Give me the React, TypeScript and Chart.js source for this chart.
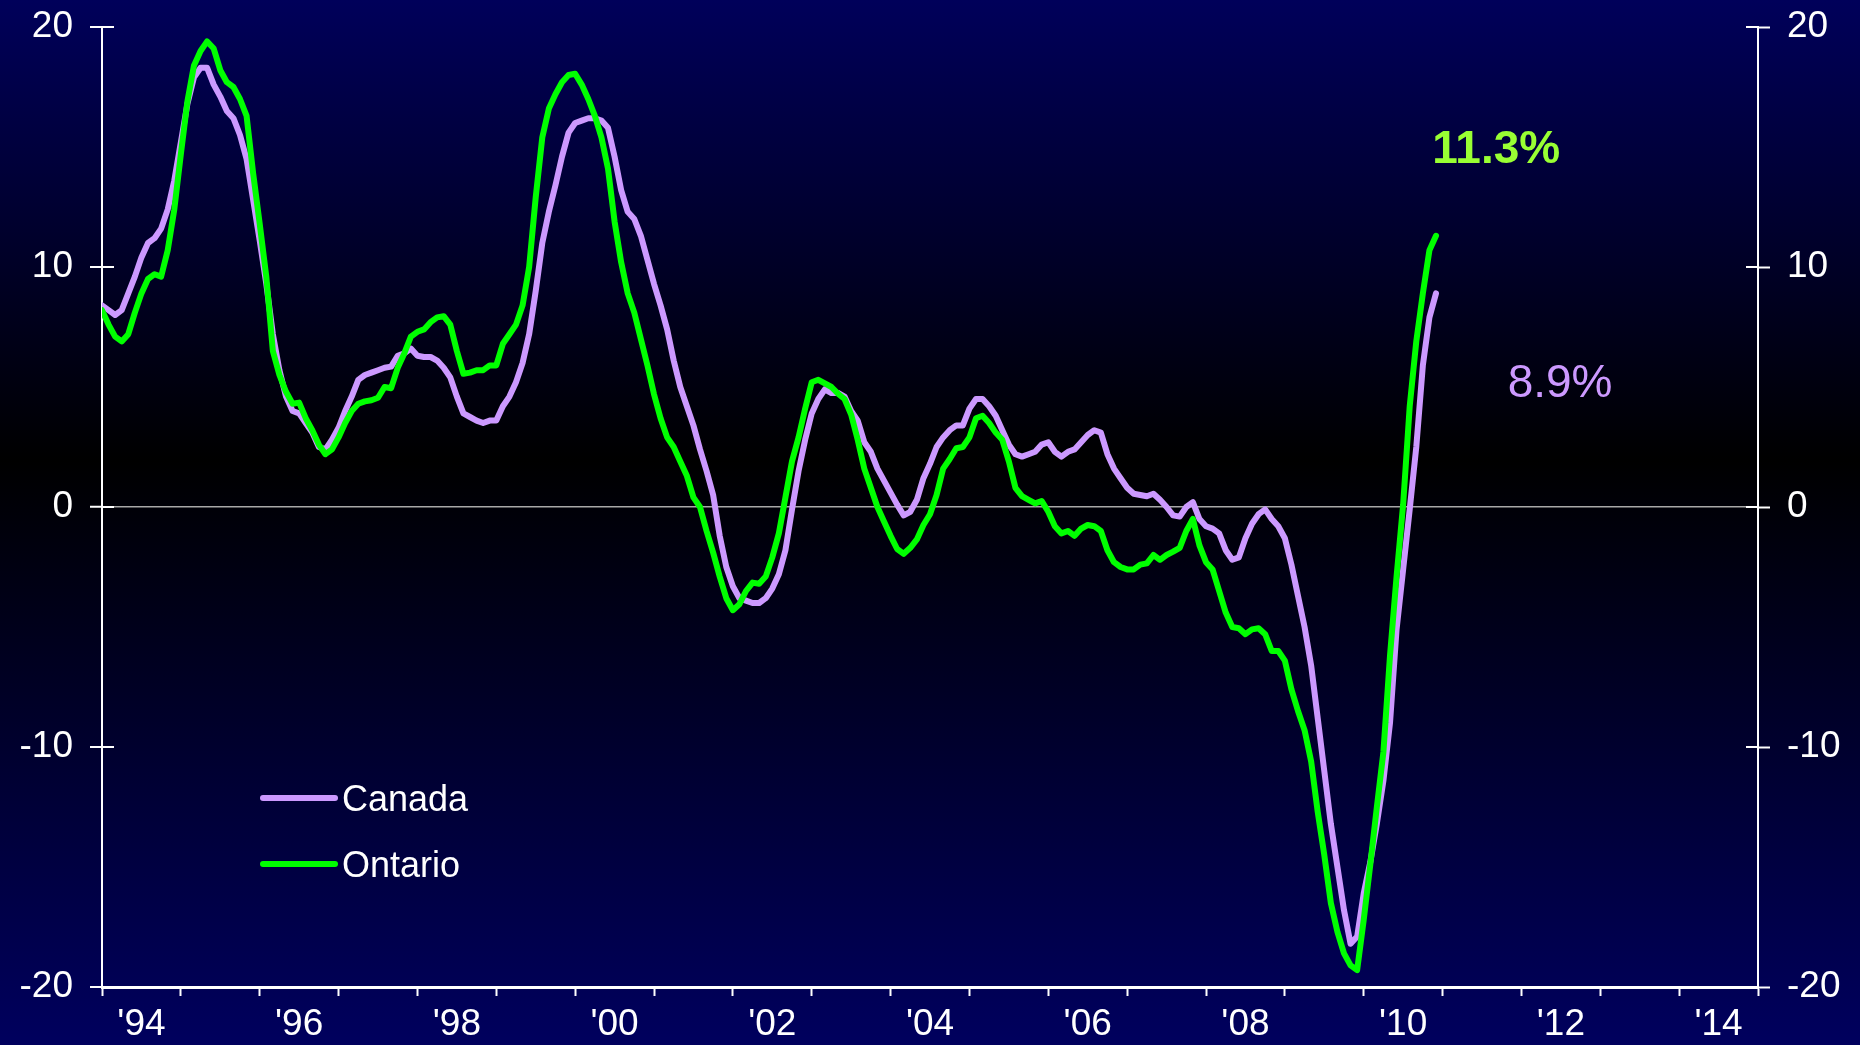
import React, { useEffect, useRef } from "react";
import { Chart, registerables } from "chart.js";

Chart.register(...registerables);

// Monthly year-over-year % change, Jan 1994 .. Dec 2010
const startYear = 1994;
const seriesNames = ["Canada", "Ontario"];

const canada = [
  8.4, 8.2, 8.0, 8.2, 8.9, 9.6, 10.4, 11.0, 11.2, 11.6, 12.4, 13.6,
  15.2, 16.8, 17.9, 18.3, 18.3, 17.6, 17.1, 16.5, 16.2, 15.5, 14.5, 12.8,
  11.1, 9.3, 7.2, 5.7, 4.6, 4.0, 3.9, 3.5, 3.1, 2.5, 2.4, 2.8,
  3.3, 4.0, 4.6, 5.3, 5.5, 5.6, 5.7, 5.8, 5.85, 6.3, 6.4, 6.6,
  6.3, 6.25, 6.25, 6.1, 5.8, 5.4, 4.6, 3.9, 3.75, 3.6, 3.5, 3.6,
  3.6, 4.2, 4.6, 5.2, 6.0, 7.2, 9.0, 11.0, 12.3, 13.4, 14.6, 15.6,
  16.0, 16.1, 16.2, 16.2, 16.1, 15.8, 14.6, 13.2, 12.3, 12.0, 11.3, 10.3,
  9.3, 8.4, 7.4, 6.1, 5.0, 4.2, 3.4, 2.4, 1.5, 0.5, -1.2, -2.5,
  -3.3, -3.8, -3.9, -4.0, -4.0, -3.8, -3.4, -2.8, -1.8, -0.1, 1.5, 2.8,
  3.9, 4.5, 4.9, 4.75, 4.75, 4.6, 4.0, 3.6, 2.7, 2.3, 1.6, 1.1,
  0.6, 0.1, -0.35, -0.2, 0.3, 1.2, 1.8, 2.5, 2.9, 3.2, 3.4, 3.4,
  4.1, 4.5, 4.5, 4.2, 3.8, 3.2, 2.6, 2.2, 2.1, 2.2, 2.3, 2.6,
  2.7, 2.3, 2.1, 2.3, 2.4, 2.7, 3.0, 3.2, 3.1, 2.2, 1.6, 1.2,
  0.8, 0.55, 0.5, 0.45, 0.55, 0.3, 0.0, -0.35, -0.4, 0.0, 0.2, -0.5,
  -0.8, -0.9, -1.1, -1.8, -2.2, -2.1, -1.3, -0.7, -0.3, -0.1, -0.5, -0.8,
  -1.3, -2.4, -3.7, -5.0, -6.6, -8.8, -11.0, -13.2, -15.0, -16.8, -18.2, -17.9,
  -16.1, -14.8, -13.2, -11.4, -9.0, -5.1, -2.6, -0.1, 2.5, 5.9, 7.9, 8.9,
];

const ontario = [
  8.2, 7.6, 7.1, 6.9, 7.2, 8.1, 8.9, 9.5, 9.7, 9.6, 10.7, 12.4,
  14.7, 16.9, 18.4, 19.0, 19.4, 19.1, 18.2, 17.7, 17.5, 17.0, 16.3, 13.9,
  11.8, 9.6, 6.5, 5.5, 4.8, 4.3, 4.35, 3.7, 3.2, 2.6, 2.2, 2.4,
  2.9, 3.5, 4.0, 4.3, 4.4, 4.45, 4.55, 5.0, 4.95, 5.8, 6.4, 7.1,
  7.3, 7.4, 7.7, 7.9, 7.95, 7.6, 6.5, 5.55, 5.6, 5.7, 5.7, 5.9,
  5.9, 6.8, 7.2, 7.6, 8.4, 10.0, 12.9, 15.4, 16.6, 17.2, 17.7, 18.0,
  18.05, 17.6, 17.0, 16.3, 15.4, 14.1, 11.9, 10.2, 8.9, 8.1, 7.0, 5.9,
  4.7, 3.7, 2.9, 2.5, 1.9, 1.3, 0.4, 0.0, -1.0, -1.9, -2.9, -3.8,
  -4.3, -4.05, -3.5, -3.15, -3.2, -2.9, -2.1, -1.1, 0.4, 1.9, 2.9, 4.1,
  5.2, 5.3, 5.15, 5.0, 4.72, 4.5, 3.85, 2.8, 1.6, 0.8, 0.0, -0.6,
  -1.2, -1.75, -1.95, -1.7, -1.35, -0.75, -0.3, 0.5, 1.6, 2.0, 2.45, 2.5,
  2.9, 3.7, 3.8, 3.5, 3.1, 2.8, 1.9, 0.8, 0.45, 0.3, 0.15, 0.25,
  -0.2, -0.8, -1.1, -1.0, -1.2, -0.9, -0.75, -0.8, -1.0, -1.8, -2.3, -2.5,
  -2.6, -2.6, -2.4, -2.35, -2.0, -2.2, -2.0, -1.86, -1.7, -1.0, -0.5, -1.6,
  -2.3, -2.6, -3.5, -4.4, -5.0, -5.05, -5.3, -5.1, -5.05, -5.3, -6.0, -6.0,
  -6.4, -7.6, -8.5, -9.3, -10.6, -12.7, -14.5, -16.5, -17.7, -18.6, -19.1, -19.3,
  -17.2, -14.9, -12.5, -10.2, -6.2, -2.9, 0.1, 4.2, 6.9, 8.9, 10.7, 11.3,
];

const xMin = 1994;
const xMax = 2015;
const xLabelYears = [1994, 1996, 1998, 2000, 2002, 2004, 2006, 2008, 2010, 2012, 2014];
const xTickLabels = ["'94", "'96", "'98", "'00", "'02", "'04", "'06", "'08", "'10", "'12", "'14"];
const yTicks = [-20, -10, 0, 10, 20];

const FONT = '"Liberation Sans", Arial, Helvetica, sans-serif';
const CANADA_COLOR = "#cc99ff";
const ONTARIO_COLOR = "#00ff00";
const LABEL_GREEN = "#99ff33";

const toPoints = (arr: number[]) => arr.map((v, i) => ({ x: startYear + i / 12, y: v }));

const bgPlugin = {
  id: "bgGradient",
  beforeDraw(chart: any) {
    const { ctx, width, height } = chart;
    const g = ctx.createLinearGradient(0, 0, 0, height);
    g.addColorStop(0, "#00005a");
    g.addColorStop(0.44, "#000000");
    g.addColorStop(1, "#00005e");
    ctx.save();
    ctx.fillStyle = g;
    ctx.fillRect(0, 0, width, height);
    ctx.restore();
  },
};

const innerTicksPlugin = {
  id: "innerTicks",
  afterDraw(chart: any) {
    const ctx = chart.ctx;
    ctx.save();
    ctx.strokeStyle = "#ffffff";
    ctx.lineWidth = 2;
    ["y", "y2"].forEach((id) => {
      const s = chart.scales[id];
      const xAxis = id === "y" ? chart.chartArea.left : chart.chartArea.right;
      const dir = id === "y" ? 1 : -1;
      yTicks.forEach((v) => {
        const py = Math.round(s.getPixelForValue(v));
        ctx.beginPath();
        ctx.moveTo(xAxis, py);
        ctx.lineTo(xAxis + dir * 12, py);
        ctx.stroke();
      });
    });
    ctx.restore();
  },
};

const annotPlugin = {
  id: "annotations",
  afterDraw(chart: any) {
    const ctx = chart.ctx;
    const xs = chart.scales.x;
    const ys = chart.scales.y;
    const area = chart.chartArea;
    ctx.save();
    // end-value labels
    ctx.textAlign = "center";
    ctx.textBaseline = "alphabetic";
    ctx.fillStyle = LABEL_GREEN;
    ctx.font = `bold 46px ${FONT}`;
    ctx.fillText(`${ontario[ontario.length - 1].toFixed(1)}%`, xs.getPixelForValue(2011.68), ys.getPixelForValue(14.33));
    ctx.fillStyle = CANADA_COLOR;
    ctx.font = `46px ${FONT}`;
    ctx.fillText(`${canada[canada.length - 1].toFixed(1)}%`, xs.getPixelForValue(2012.49), ys.getPixelForValue(4.58));

    // legend
    const ds = chart.data.datasets;
    const lx0 = area.left + 161;
    const lx1 = area.left + 233;
    const rows = [area.top + 771, area.top + 837];
    ds.forEach((d: any, i: number) => {
      const y = rows[i];
      ctx.strokeStyle = d.borderColor;
      ctx.lineWidth = 6;
      ctx.lineCap = "round";
      ctx.beginPath();
      ctx.moveTo(lx0, y);
      ctx.lineTo(lx1, y);
      ctx.stroke();
      ctx.fillStyle = "#ffffff";
      ctx.font = `36px ${FONT}`;
      ctx.textAlign = "left";
      ctx.textBaseline = "alphabetic";
      ctx.fillText(d.label, lx1 + 7, y + 13);
    });
    ctx.restore();
  },
};

export default function App() {
  const ref = useRef<HTMLCanvasElement | null>(null);

  useEffect(() => {
    document.body.style.margin = "0";
    document.body.style.background = "#000030";
    const canvas = ref.current;
    if (!canvas) return;

    const tickValues: number[] = [];
    for (let y = xMin; y <= xMax; y++) tickValues.push(y);
    xLabelYears.forEach((y) => tickValues.push(y + 0.5));
    tickValues.sort((a, b) => a - b);

    const labelFor = (v: number) => {
      const idx = xLabelYears.findIndex((y) => Math.abs(y + 0.5 - v) < 1e-6);
      return idx >= 0 ? xTickLabels[idx] : "";
    };

    const yAxisCommon = (position: string) => ({
      position,
      min: -20,
      max: 20,
      afterBuildTicks: (s: any) => {
        s.ticks = yTicks.map((v) => ({ value: v }));
      },
      afterFit: (s: any) => {
        s.width = 102;
        s.paddingTop = 0;
        s.paddingBottom = 0;
      },
      border: { display: true, color: "#ffffff", width: 2 },
      ticks: {
        color: "#ffffff",
        font: { family: FONT, size: 37 },
        padding: 17,
        callback: (v: any) => String(v),
      },
    });

    const chart = new Chart(canvas, {
      type: "line",
      data: {
        datasets: [
          {
            label: seriesNames[0],
            data: toPoints(canada),
            borderColor: CANADA_COLOR,
            backgroundColor: CANADA_COLOR,
            borderWidth: 6,
            pointRadius: 0,
            tension: 0,
            order: 2,
            borderJoinStyle: "round",
            borderCapStyle: "round",
          },
          {
            label: seriesNames[1],
            data: toPoints(ontario),
            borderColor: ONTARIO_COLOR,
            backgroundColor: ONTARIO_COLOR,
            borderWidth: 6,
            pointRadius: 0,
            tension: 0,
            order: 1,
            borderJoinStyle: "round",
            borderCapStyle: "round",
          },
        ],
      },
      options: {
        responsive: false,
        animation: false,
        devicePixelRatio: 1,
        layout: { padding: { top: 27, left: 0, right: 0, bottom: 0 } },
        plugins: {
          legend: { display: false },
          tooltip: { enabled: false },
        },
        scales: {
          x: {
            type: "linear",
            position: "bottom",
            min: xMin,
            max: xMax,
            afterBuildTicks: (s: any) => {
              s.ticks = tickValues.map((v) => ({ value: v }));
            },
            afterFit: (s: any) => {
              s.height = 58;
              s.paddingLeft = 0;
              s.paddingRight = 0;
            },
            border: { display: true, color: "#ffffff", width: 3 },
            grid: {
              drawOnChartArea: false,
              drawTicks: true,
              tickLength: 9,
              tickWidth: 2,
              tickColor: (ctx: any) =>
                ctx.tick && Number.isInteger(ctx.tick.value) ? "#ffffff" : "rgba(0,0,0,0)",
            },
            ticks: {
              autoSkip: false,
              maxRotation: 0,
              minRotation: 0,
              color: "#ffffff",
              font: { family: FONT, size: 37 },
              padding: 7,
              callback: (v: any) => labelFor(Number(v)),
            },
          },
          y: {
            ...yAxisCommon("left"),
            grid: {
              drawOnChartArea: true,
              drawTicks: true,
              tickLength: 12,
              tickWidth: 2,
              tickColor: "#ffffff",
              lineWidth: (ctx: any) => (ctx.tick && ctx.tick.value === 0 ? 1.5 : 0),
              color: (ctx: any) => (ctx.tick && ctx.tick.value === 0 ? "#a8a8a8" : "rgba(0,0,0,0)"),
            },
          },
          y2: {
            ...yAxisCommon("right"),
            grid: {
              drawOnChartArea: false,
              drawTicks: true,
              tickLength: 12,
              tickWidth: 2,
              tickColor: "#ffffff",
            },
          },
        },
      } as any,
      plugins: [bgPlugin, innerTicksPlugin, annotPlugin],
    });

    return () => chart.destroy();
  }, []);

  return (
    <div style={{ width: 1860, height: 1045 }}>
      <canvas ref={ref} width={1860} height={1045} style={{ display: "block", width: 1860, height: 1045 }} />
    </div>
  );
}
